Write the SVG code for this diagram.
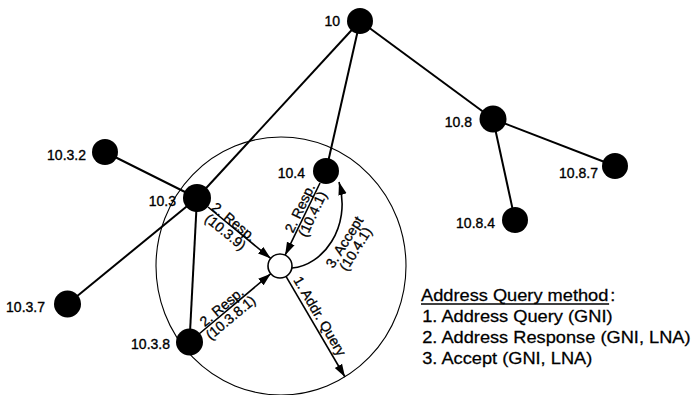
<svg xmlns="http://www.w3.org/2000/svg" width="696" height="395" viewBox="0 0 696 395">
  <style>
    .edge { stroke: #000; stroke-width: 2; fill: none; }
    .msg { stroke: #000; stroke-width: 1.6; fill: none; marker-end: url(#head); }
    .range { stroke: #000; stroke-width: 1.1; fill: none; }
    .node { fill: #000; }
    .hollow { fill: #fff; stroke: #000; stroke-width: 1.6; }
    .nlabel { font-family: "Liberation Sans", Arial, sans-serif; font-size: 14px; fill: #000; stroke: #000; stroke-width: 0.35; text-anchor: end; }
    .mlabel { font-family: "Liberation Sans", Arial, sans-serif; font-size: 14px; fill: #000; stroke: #000; stroke-width: 0.3; text-anchor: middle; }
    .legend { font-family: "Liberation Sans", Arial, sans-serif; font-size: 16px; fill: #000; stroke: #000; stroke-width: 0.25; }
  </style>
  <defs>
    <marker id="head" markerUnits="userSpaceOnUse" markerWidth="14" markerHeight="10" refX="13" refY="5" orient="auto">
      <path d="M0,0.8 L13,5 L0,9.2 Z" fill="#000"/>
    </marker>
  </defs>
  <rect width="696" height="395" fill="#fff"/>

  <!-- radio range of the querying node -->
  <ellipse class="range" cx="281" cy="266" rx="125" ry="129"/>

  <g id="connectors">
    <!-- tree links -->
    <line class="edge" x1="360" y1="21" x2="493" y2="119"/>
    <line class="edge" x1="493" y1="119" x2="615" y2="166"/>
    <line class="edge" x1="493" y1="119" x2="515" y2="220"/>
    <line class="edge" x1="360" y1="21" x2="197" y2="198"/>
    <line class="edge" x1="360" y1="21" x2="326" y2="171"/>
    <line class="edge" x1="105" y1="152" x2="197" y2="198"/>
    <line class="edge" x1="197" y1="198" x2="67.5" y2="304"/>
    <line class="edge" x1="197" y1="198" x2="189.5" y2="342"/>

    <!-- address query messages -->
    <line class="msg" x1="208" y1="207" x2="270.7" y2="258.4"/>
    <line class="msg" x1="320" y1="183" x2="285.1" y2="255.2"/>
    <line class="msg" x1="199" y1="334" x2="270.8" y2="273.7"/>
    <line class="msg" x1="286" y1="276.4" x2="345" y2="377"/>
    <path class="msg" d="M292,268 C322,266 352,228 339,182"/>

    <g transform="translate(232,224) rotate(39.3)">
      <text class="mlabel" x="0" y="2">2. Resp.</text>
      <text class="mlabel" x="0" y="15">(10.3.9)</text>
    </g>
    <g transform="translate(306,211) rotate(-64.7)">
      <text class="mlabel" x="0" y="-2">2. Resp.</text>
      <text class="mlabel" x="0" y="12">(10.4.1)</text>
    </g>
    <g transform="translate(226,312) rotate(-39.9)">
      <text class="mlabel" x="0" y="-2">2. Resp.</text>
      <text class="mlabel" x="0" y="12">(10.3.8.1)</text>
    </g>
    <g transform="translate(313,320) rotate(59.6)">
      <text class="mlabel" x="0" y="-3">1. Addr. Query</text>
    </g>
    <g transform="translate(346,243) rotate(-58)">
      <text class="mlabel" x="0" y="3">3. Accept</text>
      <text class="mlabel" x="0" y="16">(10.4.1)</text>
    </g>
  </g>

  <g id="n10"><circle class="node" cx="360" cy="21" r="13"/><text class="nlabel" x="340" y="26">10</text></g>
  <g id="n10-8"><circle class="node" cx="493" cy="119" r="13.5"/><text class="nlabel" x="472" y="127">10.8</text></g>
  <g id="n10-8-7"><circle class="node" cx="615" cy="166" r="13"/><text class="nlabel" x="598" y="178">10.8.7</text></g>
  <g id="n10-8-4"><circle class="node" cx="515" cy="220" r="13"/><text class="nlabel" x="495" y="228">10.8.4</text></g>
  <g id="n10-3-2"><circle class="node" cx="105" cy="152" r="13"/><text class="nlabel" x="86" y="160">10.3.2</text></g>
  <g id="n10-4"><circle class="node" cx="326" cy="171" r="13"/><text class="nlabel" x="305" y="178">10.4</text></g>
  <g id="n10-3"><circle class="node" cx="197" cy="198" r="14"/><text class="nlabel" x="176" y="206">10.3</text></g>
  <g id="n10-3-7"><circle class="node" cx="67.5" cy="304" r="13.5"/><text class="nlabel" x="45" y="312">10.3.7</text></g>
  <g id="n10-3-8"><circle class="node" cx="189.5" cy="342" r="13.5"/><text class="nlabel" x="170" y="349">10.3.8</text></g>
  <g id="querier"><circle class="hollow" cx="280" cy="266" r="12"/></g>

  <g id="legend" transform="translate(421,0) scale(1.14,1)">
    <text class="legend" x="0" y="301">Address Query method</text>
    <text class="legend" x="166" y="301">:</text>
    <line x1="0" y1="304" x2="165" y2="304" stroke="#000" stroke-width="1.3"/>
    <text class="legend" x="1" y="322">1. Address Query (GNI)</text>
    <text class="legend" x="1" y="343">2. Address Response (GNI, LNA)</text>
    <text class="legend" x="1" y="364">3. Accept (GNI, LNA)</text>
  </g>
</svg>
